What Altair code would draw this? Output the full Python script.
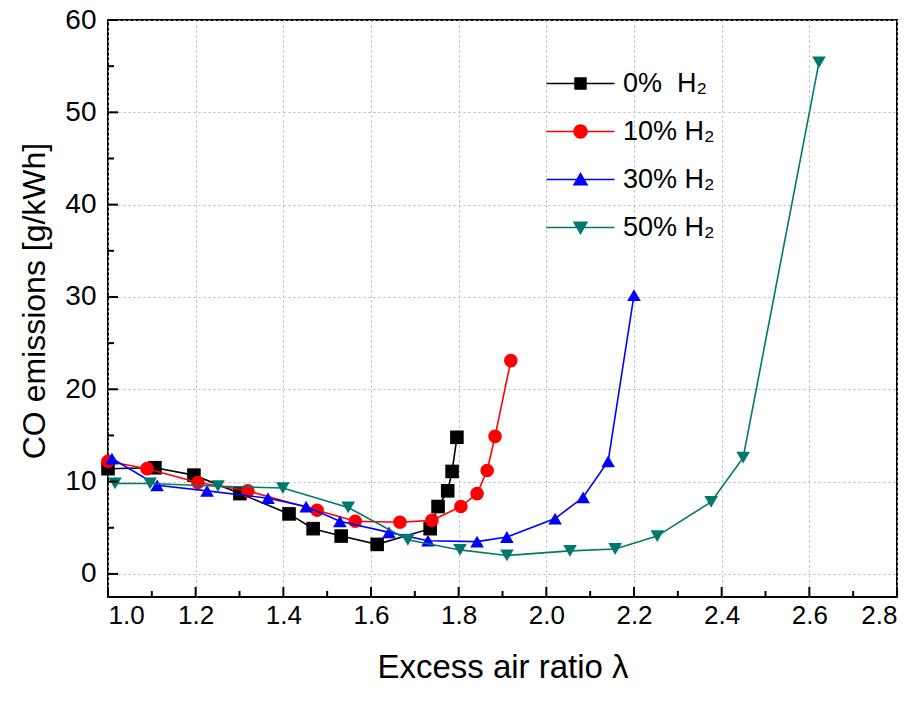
import altair as alt
import pandas as pd

# ---------------- data ----------------
series_names = ["\u00a00%\u00a0\u00a0H\u2082", "10% H\u2082", "30% H\u2082", "50% H\u2082"]
series_colors = ["#000000", "#ff0000", "#0000ff", "#00786c"]
series_shapes = ["square", "circle", "triangle-up", "triangle-down"]

x_0 = [1.00, 1.107, 1.196, 1.301, 1.413, 1.468, 1.532, 1.614, 1.735, 1.753, 1.775, 1.785, 1.796]
y_0 = [11.4, 11.5, 10.7, 8.7, 6.5, 4.9, 4.1, 3.2, 4.9, 7.3, 9.0, 11.1, 14.8]

x_10 = [1.00, 1.089, 1.205, 1.319, 1.477, 1.564, 1.666, 1.739, 1.805, 1.842, 1.865, 1.883, 1.919]
y_10 = [12.2, 11.4, 9.9, 9.0, 6.9, 5.7, 5.6, 5.8, 7.3, 8.7, 11.2, 14.9, 23.1]

x_30 = [1.009, 1.112, 1.226, 1.365, 1.452, 1.529, 1.641, 1.730, 1.842, 1.910, 2.020, 2.084, 2.141, 2.200]
y_30 = [12.5, 9.6, 9.0, 8.2, 7.3, 5.7, 4.5, 3.6, 3.5, 4.0, 6.0, 8.3, 12.2, 30.2]

x_50 = [1.016, 1.096, 1.251, 1.399, 1.548, 1.684, 1.803, 1.910, 2.054, 2.157, 2.253, 2.376, 2.449, 2.622]
y_50 = [9.8, 9.8, 9.5, 9.3, 7.2, 3.7, 2.6, 2.0, 2.5, 2.7, 4.1, 7.8, 12.6, 55.4]

x_major_ticks = [1.0, 1.2, 1.4, 1.6, 1.8, 2.0, 2.2, 2.4, 2.6, 2.8]
x_minor_ticks = [1.1, 1.3, 1.5, 1.7, 1.9, 2.1, 2.3, 2.5, 2.7]
y_major_ticks = [0, 10, 20, 30, 40, 50, 60]
y_minor_ticks = [5, 15, 25, 35, 45, 55]

# legend symbols: line segment + marker, as filled custom paths
LINE = "M-3.4,-0.08H3.4V0.08H-3.4Z "
legend_paths = [
    LINE + "M-0.62,-0.62H0.62V0.62H-0.62Z",
    LINE + "M0.72,0A0.72,0.72 0 1,1 -0.72,0A0.72,0.72 0 1,1 0.72,0Z",
    LINE + "M0,-0.74L0.78,0.6H-0.78Z",
    LINE + "M-0.78,-0.6H0.78L0,0.74Z",
]

# ---------------- table ----------------
rows = []
for name, xs_, ys_ in zip(series_names, [x_0, x_10, x_30, x_50], [y_0, y_10, y_30, y_50]):
    for i, (a, b) in enumerate(zip(xs_, ys_)):
        rows.append({"series": name, "x": a, "y": b, "order": i})
df = pd.DataFrame(rows)

W, H = 789, 577
FONT = "Liberation Sans, Arial, sans-serif"
NARROW = "Liberation Sans Narrow, Arial Narrow, Liberation Sans, Arial, sans-serif"

xscale = alt.Scale(domain=[1.0, 2.8], nice=False, zero=False)
yscale = alt.Scale(domain=[-2.5, 60], nice=False, zero=False)

x_axis = alt.Axis(
    title="Excess air ratio \u03bb", values=x_major_ticks, format=".1f",
    grid=True, gridDash=[2, 3], gridColor="#b5b5b5", gridWidth=1,
    ticks=False, domain=False,
    labelFont=NARROW, labelFontSize=26, labelPadding=5, labelColor="black",
    titleFont=FONT, titleFontSize=33, titleFontWeight="normal", titleColor="black",
    titleY=70, titleBaseline="middle",
)
y_axis = alt.Axis(
    title="CO emissions [g/kWh]", values=y_major_ticks, format="d",
    grid=True, gridDash=[2, 3], gridColor="#b5b5b5", gridWidth=1,
    ticks=False, domain=False,
    labelFont=FONT, labelFontSize=28, labelPadding=12, labelColor="black",
    titleFont=FONT, titleFontSize=32, titleFontWeight="normal", titleColor="black",
    titleX=-74, titleY=H / 2 - 8, titleBaseline="middle", titleAngle=-90,
)

X = alt.X("x:Q", scale=xscale, axis=x_axis)
Y = alt.Y("y:Q", scale=yscale, axis=y_axis)

base = alt.Chart(df)
layers = []
for name, col, shp in zip(series_names, series_colors, series_shapes):
    sub = base.transform_filter(alt.datum.series == name)
    line = sub.mark_line(color=col, strokeWidth=1.6).encode(x=X, y=Y, order="order:Q")
    pts = sub.mark_point(shape=shp, filled=True, color=col, opacity=1, size=185).encode(x=X, y=Y)
    layers += [line, pts]

# inward ticks on the frame
ymaj = alt.Chart(pd.DataFrame({"y": y_major_ticks})).mark_rule(color="black", strokeWidth=2).encode(
    y=Y, x=alt.value(0), x2=alt.value(10))
ymin = alt.Chart(pd.DataFrame({"y": y_minor_ticks})).mark_rule(color="black", strokeWidth=2).encode(
    y=Y, x=alt.value(0), x2=alt.value(6))
xmaj = alt.Chart(pd.DataFrame({"x": x_major_ticks})).mark_rule(color="black", strokeWidth=2).encode(
    x=X, y=alt.value(H), y2=alt.value(H - 10))
xmin = alt.Chart(pd.DataFrame({"x": x_minor_ticks})).mark_rule(color="black", strokeWidth=2).encode(
    x=X, y=alt.value(H), y2=alt.value(H - 6))
layers += [ymaj, ymin, xmaj, xmin]

# legend carrier layer (no visible data)
legend = alt.Legend(
    title=None, orient="none", legendX=459, legendY=50, padding=0,
    symbolSize=400, symbolStrokeWidth=0, labelOffset=29,
    labelFont=FONT, labelFontSize=27, labelColor="black", rowPadding=20,
    labelLimit=300,
)
carrier = base.transform_filter("false").mark_point(filled=True, opacity=1).encode(
    x=X, y=Y,
    color=alt.Color("series:N", scale=alt.Scale(domain=series_names, range=series_colors), legend=legend),
    shape=alt.Shape("series:N", scale=alt.Scale(domain=series_names, range=legend_paths), legend=legend),
)
layers.append(carrier)

chart = alt.layer(*layers).properties(
    width=W, height=H,
    padding={"left": 108, "top": 20, "right": 25, "bottom": 119},
    autosize=alt.AutoSizeParams(type="none"),
).configure(background="white").configure_view(stroke="black", strokeWidth=2)

chart.save("out.html", embed_options={"renderer": "svg", "actions": False})
